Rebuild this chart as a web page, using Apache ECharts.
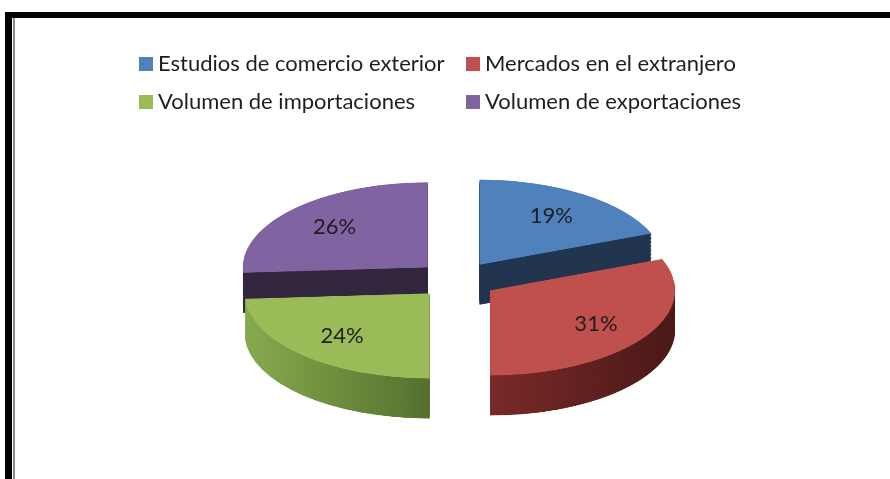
<!DOCTYPE html>
<html>
<head>
<meta charset="utf-8">
<script src="https://cdn.jsdelivr.net/npm/echarts@6/dist/echarts.min.js"></script>
<style>
html,body{margin:0;padding:0;background:#fff;overflow:hidden;width:890px;height:479px}
#pie{position:absolute;left:0;top:0;width:890px;height:960px;transform:scaleY(0.46);transform-origin:0 0;}
#main{position:absolute;left:0;top:0;width:890px;height:479px;z-index:2}
</style>
</head>
<body>
<div id="pie"></div>
<div id="main"></div>
<script>
// ---- data ----
const categories = ['Estudios de comercio exterior', 'Mercados en el extranjero', 'Volumen de importaciones', 'Volumen de exportaciones'];
const values = [19, 31, 24, 26];
const legendCol1 = [categories[0], categories[2]];
const legendCol2 = [categories[1], categories[3]];

// ---- style / layout ----
const topColors = ['#4F81BD', '#C0504D', '#9BBB59', '#8064A2'];
const LG = echarts.graphic.LinearGradient;
const sideColors = [
  '#22354F',
  new LG(0, 0, 1, 0, [{offset: 0, color: '#7A2A28'}, {offset: 1, color: '#4A1918'}]),
  new LG(0, 0, 1, 0, [{offset: 0, color: '#88AA4E'}, {offset: 1, color: '#55702E'}]),
  '#33263F'
];
const S = 0.46;        // vertical tilt factor
const CX = 457, CYS = 280, R = 185, EXPLODE = 40, DEPTH = 40, NL = 30;
const FONT = 'Lato';

function colorOf(name) { return topColors[categories.indexOf(name)]; }

function makePie(cy, colors) {
  return {
    type: 'pie', center: [CX, cy], radius: R, startAngle: 90, clockwise: true,
    selectedMode: 'multiple', selectedOffset: EXPLODE, silent: true, animation: false,
    label: {show: false}, labelLine: {show: false}, emphasis: {disabled: true},
    itemStyle: {borderWidth: 0},
    data: categories.map((n, i) => ({name: n, value: values[i], selected: true, itemStyle: {color: colors[i]}}))
  };
}

const cyp = CYS / S, depthP = DEPTH / S;
const pieSeries = [];
for (let i = NL; i >= 1; i--) pieSeries.push(makePie(cyp + depthP * i / NL, sideColors));
pieSeries.push(makePie(cyp, topColors));

const pieChart = echarts.init(document.getElementById('pie'));
pieChart.setOption({animation: false, series: pieSeries});

const main = echarts.init(document.getElementById('main'));
const legendBase = {
  orient: 'vertical', top: 52, padding: 0, itemWidth: 14, itemHeight: 14, itemGap: 14, icon: 'rect',
  selectedMode: false, textStyle: {fontFamily: FONT, fontSize: 22, color: '#1E1E1E', lineHeight: 24}
};
main.setOption({
  backgroundColor: 'transparent',
  animation: false,
  graphic: [
    {type: 'rect', shape: {x: 5, y: 12, width: 885, height: 6}, style: {fill: '#000'}, silent: true},
    {type: 'rect', shape: {x: 5, y: 12, width: 7, height: 467}, style: {fill: '#000'}, silent: true},
    {type: 'rect', shape: {x: 13, y: 18, width: 2, height: 461}, style: {fill: '#8C8C8C'}, silent: true}
  ],
  legend: [
    Object.assign({}, legendBase, {left: 139, data: legendCol1.map(n => ({name: n, itemStyle: {color: colorOf(n), opacity: 1}}))}),
    Object.assign({}, legendBase, {left: 466, data: legendCol2.map(n => ({name: n, itemStyle: {color: colorOf(n), opacity: 1}}))})
  ],
  series: [{
    type: 'pie', center: [CX, CYS], radius: 330, startAngle: 90, clockwise: true, silent: true,
    itemStyle: {color: 'rgba(0,0,0,0)', borderWidth: 0},
    label: {show: true, position: 'inside', formatter: '{d}%', fontFamily: FONT, fontSize: 22, color: '#1E1E1E'},
    labelLine: {show: false}, emphasis: {disabled: true},
    labelLayout: function (p) {
      const r = p.labelRect;
      const x = r.x + r.width / 2, y = r.y + r.height / 2;
      return {x: x, y: CYS + (y - CYS) * S, align: 'center', verticalAlign: 'middle'};
    },
    data: categories.map((n, i) => ({name: n, value: values[i]}))
  }]
});
</script>
</body>
</html>
